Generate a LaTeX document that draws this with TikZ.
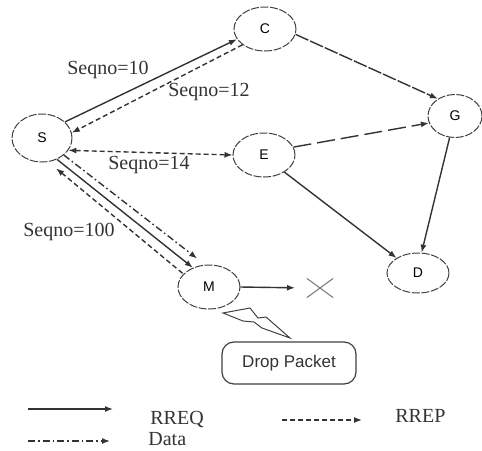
\documentclass[tikz,border=0pt]{standalone}
\usepackage{fontspec}
\setmainfont{Liberation Serif}
\setsansfont{Liberation Sans}
\usetikzlibrary{shapes.geometric,shapes.misc,arrows.meta}

\begin{document}
\begin{tikzpicture}[x=0.5pt,y=-0.5pt,>={Latex[length=4pt,width=3pt]},
 nd/.style={ellipse,draw=black!75,dash pattern=on 4pt off 0.8pt,line width=0.5pt,minimum width=31pt,minimum height=22pt,inner sep=0pt,font=\sffamily\fontsize{7}{8}\selectfont},
 rreq/.style={draw=black!80,line width=0.7pt,->},
 rrep/.style={rreq,dash pattern=on 2.5pt off 1.5pt},
 dat/.style={rreq,dash pattern=on 3.5pt off 1.5pt on 0.8pt off 1.5pt},
 lbl/.style={font=\fontsize{10}{12}\selectfont,text=black!80,inner sep=0pt}]
 \useasboundingbox (0,0) rectangle (482,450);

 % nodes
 \node[nd,minimum width=30pt,minimum height=24pt] (S) at (42,138) {S};
 \node[nd] (C) at (265,29) {C};
 \node[nd,minimum width=27pt,minimum height=21.5pt] (G) at (455,116) {G};
 \node[nd] (E) at (264,155) {E};
 \node[nd,minimum height=20pt] (D) at (418,273) {D};
 \node[nd] (M) at (209,287) {M};
 \node[cross out,draw=black!55,line width=0.5pt,minimum width=12.5pt,minimum height=9pt,inner sep=0pt] (X) at (320,288) {};

 % sequence numbers
 \node[lbl] (sq10) at (108,70) {Seqno=10};
 \node[lbl] (sq12) at (209,92) {Seqno=12};
 \node[lbl] (sq14) at (149,165) {Seqno=14};
 \node[lbl] (sq100) at (69,232) {Seqno=100};

 % route request / reply
 \draw[rreq] (S.35) -- (C.200);
 \draw[rrep] (C.215) -- (S.10);
 \draw[rrep,<->] (S.-25) -- (E.180);
 \draw[rrep,<-,shorten <=5pt] (S.-75) -- (M.153);
 \draw[rreq] (S.-55) -- (M.130);
 \draw[dat,shorten >=5pt] (S.-38) -- (M.100);
 \draw[rreq,dash pattern=on 7pt off 1pt] (C.-10) -- (G.135);
 \draw[rreq,dash pattern=on 9pt off 3pt] (E.15) -- (G.195);
 \draw[rreq] (E.-40) -- (D.145);
 \draw[rreq] (G.-104) -- (D.80);
 \draw[rreq,shorten >=6pt] (M.east) -- (X.west);

 % drop
 \draw[black!75,line width=0.5pt] (223,313) -- (250,308) -- (258,318) -- (266,317) -- (290,338)
  -- (262,328) -- (254,322) -- (243,321) -- cycle;
 \node[draw=black!75,line width=0.6pt,rounded corners=6pt,minimum width=67pt,minimum height=21pt,
  font=\sffamily\fontsize{8.5}{10}\selectfont,text=black!80] (drop) at (289,363) {Drop Packet};

 % legend
 \coordinate (k1a) at (28,409);  \coordinate (k1b) at (113,409);
 \coordinate (k2a) at (282,420); \coordinate (k2b) at (362,420);
 \coordinate (k3a) at (28,441);  \coordinate (k3b) at (110,441);
 \draw[rreq] (k1a) -- (k1b);
 \draw[rrep] (k2a) -- (k2b);
 \draw[dat] (k3a) -- (k3b);
 \node[lbl,anchor=west] (t1) at (150,419) {RREQ};
 \node[lbl,anchor=west] (t2) at (395,416) {RREP};
 \node[lbl,anchor=west] (t3) at (148,439) {Data};
\end{tikzpicture}
\end{document}
